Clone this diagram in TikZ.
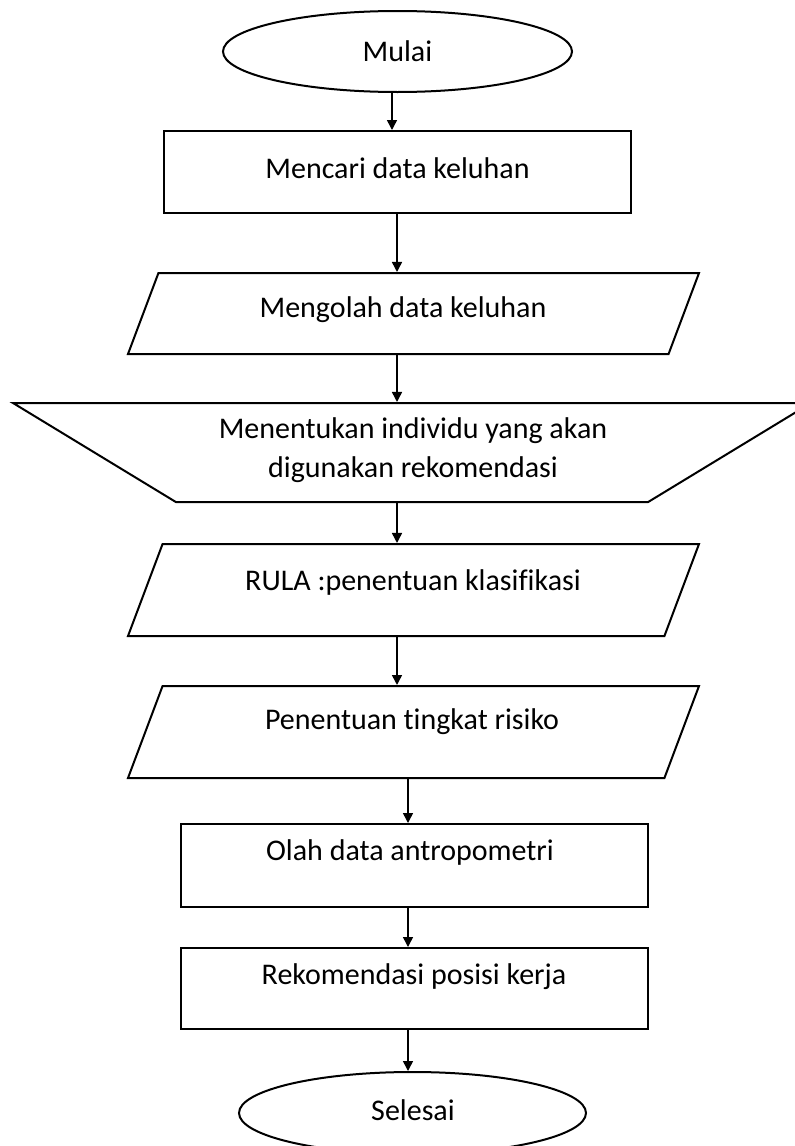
\documentclass[tikz,border=0pt]{standalone}
\usepackage{fontspec}
\setmainfont{Carlito}[Ligatures=NoCommon]
\usetikzlibrary{shapes.geometric}
\usetikzlibrary{arrows.meta}

\begin{document}
\begin{tikzpicture}[x=1pt,y=-1pt,
    terminal/.style={draw, ellipse, line width=2pt, minimum width=#1, minimum height=81pt, inner sep=0pt},
    process/.style={draw, rectangle, line width=2pt, minimum width=467pt, minimum height=#1, inner sep=0pt},
    data/.style={draw, trapezium, trapezium left angle=69.4, trapezium right angle=110.6, trapezium stretches body, line width=2pt, minimum width=571pt, inner xsep=1pt, inner ysep=#1},
    manual/.style={draw, trapezium, trapezium left angle=148.7, trapezium right angle=148.7, trapezium stretches body, line width=2pt, minimum width=798pt, inner xsep=1pt, inner ysep=49.5pt},
    caption/.style={font=\fontsize{30}{39}\selectfont, align=center, inner sep=0pt},
    flow/.style={-{Triangle[length=10pt,width=10pt]}, line width=1.5pt}]
    \useasboundingbox (0,0) rectangle (795,1146);
    %% Shapes
    \node[terminal=349pt] (mulai) at (397.5,51.5) {};
    \node[process=82pt] (cari) at (397.5,172) {};
    \node[data=40.5pt] (olah) at (413.5,313.5) {};
    \node[manual] (tentukan) at (412,452.5) {};
    \node[data=46pt] (rula) at (413.5,590) {};
    \node[data=46pt] (risiko) at (413.5,732) {};
    \node[process=83pt] (antro) at (414.5,865.5) {};
    \node[process=81pt] (rekom) at (414.5,988.5) {};
    \node[terminal=347pt, minimum height=82pt] (selesai) at (412.5,1113) {};
    %% Texts
    \node[caption] (mulai-t) at (mulai.center) {Mulai};
    \node[caption] (cari-t) at ([yshift=4pt]cari.center) {Mencari data keluhan};
    \node[caption] (olah-t) at (403,310) {Mengolah data keluhan};
    \node[caption] (tentukan-t) at (413,450.5) {Menentukan individu yang akan\\digunakan rekomendasi};
    \node[caption] (rula-t) at (413,582) {RULA :penentuan klasifikasi};
    \node[caption] (risiko-t) at (412,722) {Penentuan tingkat risiko};
    \node[caption] (antro-t) at (410,852) {Olah data antropometri};
    \node[caption] (rekom-t) at (414,977) {Rekomendasi posisi kerja};
    \node[caption] (selesai-t) at (413,1110) {Selesai};
    %% Arrows
    \coordinate (start) at (392,0);
    \coordinate (upper) at (397,0);
    \coordinate (lower) at (408,0);
    \foreach \from/\to/\line in {mulai/cari/start, cari/olah/upper, olah/tentukan/upper, tentukan/rula/upper, rula/risiko/upper, risiko/antro/lower, antro/rekom/lower, rekom/selesai/lower}
        \draw[flow] (\from.south -| \line) -- (\to.north -| \line);
\end{tikzpicture}
\end{document}
